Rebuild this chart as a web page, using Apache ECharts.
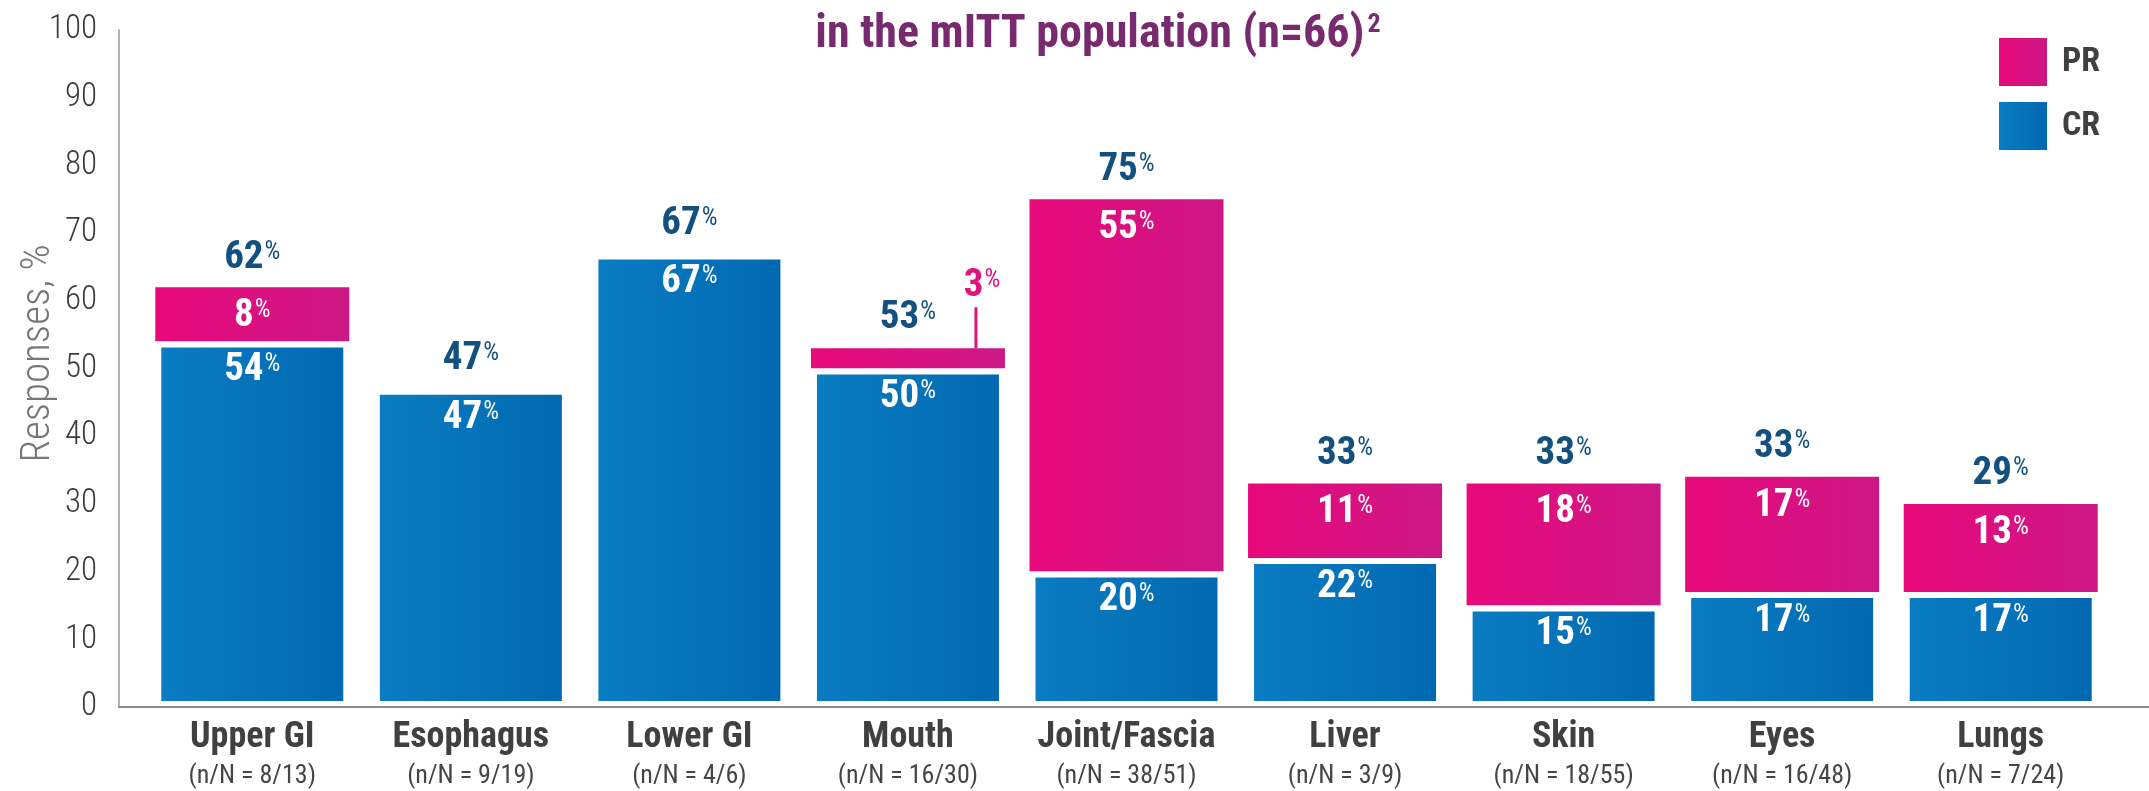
<!DOCTYPE html>
<html>
<head>
<meta charset="utf-8">
<style>
	html, body { margin: 0; padding: 0; background: #fff; }
	#chart { width: 2149px; height: 791px; }
</style>
<script src="https://cdn.jsdelivr.net/npm/echarts@6/dist/echarts.min.js"></script>
</head>
<body>
<div id="chart"></div>
<script>
	/* data */
	var categories = ['Upper GI', 'Esophagus', 'Lower GI', 'Mouth', 'Joint/Fascia', 'Liver', 'Skin', 'Eyes', 'Lungs'];
	var counts = ['8/13', '9/19', '4/6', '16/30', '38/51', '3/9', '18/55', '16/48', '7/24'];
	var crValues = [54, 47, 67, 50, 20, 22, 15, 17, 17];
	var prValues = [8, 0, 0, 3, 55, 11, 18, 17, 13];
	var totalLabels = [62, 47, 67, 53, 75, 33, 33, 33, 29];
	var yMin = 0, yMax = 100, yStep = 10;

	var narrow = "'Roboto Condensed', 'Liberation Sans Narrow', 'DejaVu Sans Condensed', sans-serif";
	var pink = '#e0127c';
	var blueGrad = new echarts.graphic.LinearGradient(0, 0, 1, 0, [
		{ offset: 0, color: '#0a7dc3' }, { offset: 1, color: '#0068b0' }
	]);
	var pinkGrad = new echarts.graphic.LinearGradient(0, 0, 1, 0, [
		{ offset: 0, color: '#e8097a' }, { offset: 1, color: '#cd1786' }
	]);

	function pctRich(color) {
		return {
			n: { fontFamily: narrow, fontWeight: 'bold', fontSize: 39, color: color, lineHeight: 42 },
			p: { fontFamily: narrow, fontSize: 25, color: color, verticalAlign: 'top', padding: [3, 0, 0, 1] },
			l: { width: 3, height: 41, backgroundColor: pink },
			sp: { width: 12, height: 41 }
		};
	}
	function pctText(v) {
		return '{n|' + v + '}{p|%}';
	}

	// Mouth PR gets a callout label with a leader line
	var mouthIdx = categories.indexOf('Mouth');
	var prData = prValues.map(function(v, i) {
		if(i !== mouthIdx) return v;
		return {
			value: v,
			label: {
				position: 'top',
				distance: 0,
				offset: [74, 0],
				formatter: '{n|{c}}{p|%}\n{l|}{sp|}',
				rich: pctRich(pink)
			}
		};
	});
	var totalData = categories.map(function(c, i) {
		return [i, crValues[i] + prValues[i]];
	});

	var option = {
		backgroundColor: '#fff',
		animation: false,
		title: {
			text: '{t|in the mITT population (n=66)}{s|2}',
			left: 1093,
			textAlign: 'center',
			top: 2,
			textStyle: {
				rich: {
					t: { fontFamily: narrow, fontWeight: 'bold', fontSize: 46, color: '#772b6e', lineHeight: 56 },
					s: { fontFamily: narrow, fontWeight: 'bold', fontSize: 26, color: '#772b6e', verticalAlign: 'top', padding: [5, 0, 0, 3] }
				}
			}
		},
		legend: {
			data: ['PR', 'CR'],
			orient: 'vertical',
			left: 1994,
			top: 33,
			itemWidth: 48,
			itemHeight: 48,
			itemGap: 16,
			icon: 'rect',
			itemStyle: { borderWidth: 0 },
			textStyle: {
				fontFamily: narrow,
				fontWeight: 'bold',
				fontSize: 34,
				color: '#404040',
				padding: [0, 0, 0, 10]
			}
		},
		grid: [{
			left: 143, right: 39, top: 30, bottom: 84, outerBoundsMode: 'none'
		}, {
			left: 119, right: 0, top: 30, bottom: 84, outerBoundsMode: 'none'
		}],
		xAxis: [{
			gridIndex: 0,
			type: 'category',
			data: categories,
			axisLine: { show: false },
			axisTick: { show: false },
			axisLabel: {
				interval: 0,
				margin: 10,
				formatter: function(v, i) {
					return '{a|' + v + '}\n{b|(n/N = ' + counts[i] + ')}';
				},
				rich: {
					a: { fontFamily: narrow, fontWeight: 'bold', fontSize: 36, color: '#404040', lineHeight: 42 },
					b: { fontFamily: narrow, fontSize: 26, color: '#454545', lineHeight: 34 }
				}
			}
		}, {
			gridIndex: 1,
			type: 'value',
			min: 0,
			max: 1,
			z: 10,
			axisLine: { show: true, lineStyle: { color: '#8a8a8a', width: 2 } },
			axisTick: { show: false },
			axisLabel: { show: false },
			splitLine: { show: false }
		}],
		yAxis: [{
			gridIndex: 0,
			type: 'value',
			min: yMin,
			max: yMax,
			interval: yStep,
			show: false
		}, {
			gridIndex: 1,
			type: 'value',
			min: yMin,
			max: yMax,
			interval: yStep,
			z: 10,
			axisLine: { show: true, lineStyle: { color: '#9a9a9a', width: 1.5 } },
			axisTick: { show: false },
			splitLine: { show: false },
			axisLabel: { fontFamily: narrow, fontWeight: 300, fontSize: 33, color: '#3c3c3c', margin: 22 },
			name: 'Responses, %',
			nameLocation: 'middle',
			nameGap: 60,
			nameMoveOverlap: false,
			nameTextStyle: { fontFamily: narrow, fontWeight: 300, fontSize: 41, color: '#777', padding: [0, 0, 0, 30] }
		}],
		series: [{
			name: 'CR',
			type: 'bar',
			stack: 'resp',
			barWidth: 194,
			z: 3,
			itemStyle: { color: blueGrad, borderColor: '#fff', borderWidth: 6 },
			label: {
				show: true,
				position: 'insideTop',
				distance: 8,
				formatter: function(p) { return pctText(p.value); },
				rich: pctRich('#fff')
			},
			data: crValues
		}, {
			name: 'PR',
			type: 'bar',
			stack: 'resp',
			barWidth: 194,
			z: 2,
			itemStyle: { color: pinkGrad },
			label: {
				show: true,
				position: 'insideTop',
				distance: 8,
				formatter: function(p) { return p.value ? pctText(p.value) : ''; },
				rich: pctRich('#fff')
			},
			data: prData
		}, {
			name: 'Total',
			type: 'scatter',
			symbolSize: 1,
			silent: true,
			itemStyle: { color: 'rgba(0,0,0,0)', opacity: 1 },
			label: {
				show: true,
				position: 'top',
				distance: 8,
				formatter: function(p) { return pctText(totalLabels[p.dataIndex]); },
				rich: pctRich('#12507f')
			},
			data: totalData
		}]
	};

	var chart = echarts.init(document.getElementById('chart'));
	chart.setOption(option);
</script>
</body>
</html>
